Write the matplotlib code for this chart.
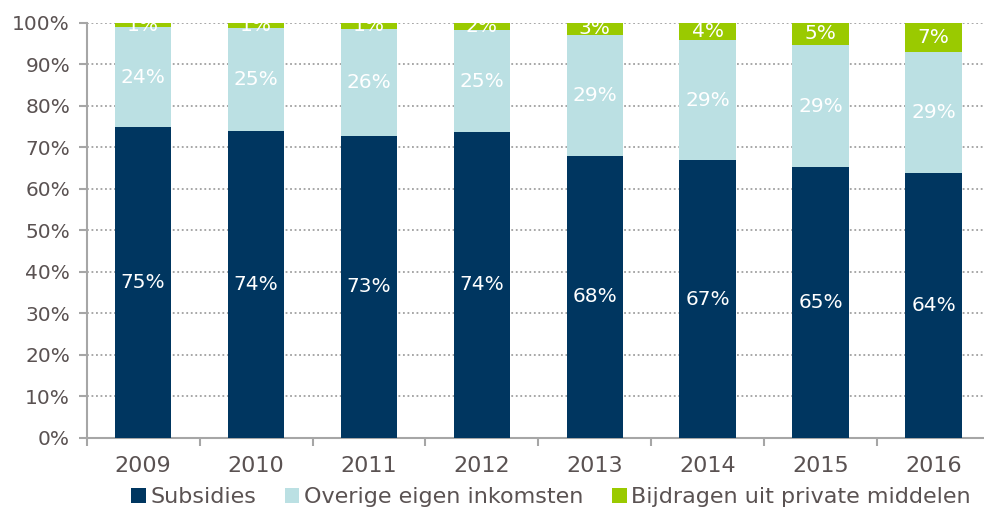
import matplotlib
matplotlib.use("Agg")
import matplotlib.pyplot as plt
from matplotlib.ticker import FixedLocator, PercentFormatter

# values (share of total income, %)
years = ["2009", "2010", "2011", "2012", "2013", "2014", "2015", "2016"]
subsidies = [74.8, 74.0, 72.7, 73.6, 67.9, 66.8, 65.2, 63.7]
overige = [24.1, 24.8, 25.9, 24.6, 29.1, 29.0, 29.4, 29.3]
private = [1.1, 1.2, 1.4, 1.8, 3.0, 4.2, 5.4, 7.0]
series_names = ["Subsidies", "Overige eigen inkomsten", "Bijdragen uit private middelen"]

colors = ["#003660", "#bbe0e3", "#9aca00"]
text_grey = "#5a5252"
axis_grey = "#a6a6a6"

fig = plt.figure(figsize=(9.84, 5.14), dpi=100)
ax = fig.add_axes([0.0881, 0.1485, 0.918, 0.8073])

x = list(range(len(years)))
bottom = [0.0] * len(years)
for vals, name, col in zip([subsidies, overige, private], series_names, colors):
    ax.bar(x, vals, width=0.5, bottom=bottom, color=col, label=name, zorder=3)
    for xi, b, v in zip(x, bottom, vals):
        ax.text(xi, b + v / 2, f"{round(v)}%", ha="center", va="center",
                color="white", fontsize=14.5, zorder=4)
    bottom = [b + v for b, v in zip(bottom, vals)]

ax.set_xlim(-0.5, 7.5)
ax.set_ylim(0, 100)
ax.set_yticks(range(0, 101, 10))
ax.yaxis.set_major_formatter(PercentFormatter(decimals=0))
ax.set_xticks(x)
ax.set_xticklabels(years)
ax.xaxis.set_minor_locator(FixedLocator([i - 0.5 for i in range(len(years) + 1)]))

ax.grid(axis="y", color="#a0a0a0", linestyle=(0, (1, 1.5)), linewidth=1.3, zorder=0)
ax.tick_params(axis="x", which="major", length=0, pad=13, labelsize=16, labelcolor=text_grey)
ax.tick_params(axis="x", which="minor", length=6, width=1.5, color=axis_grey, direction="out")
ax.tick_params(axis="y", length=6, width=1.5, color=axis_grey, pad=6, labelsize=14.5,
               labelcolor=text_grey)

for side in ["top", "right"]:
    ax.spines[side].set_visible(False)
for side in ["left", "bottom"]:
    ax.spines[side].set_color(axis_grey)
    ax.spines[side].set_linewidth(1.5)

leg = fig.legend(loc="center", bbox_to_anchor=(0.56, 0.033), ncol=3, frameon=False,
                 fontsize=16, handlelength=0.65, handleheight=0.65, handletextpad=0.2,
                 columnspacing=1.3)
for t in leg.get_texts():
    t.set_color(text_grey)

fig.savefig("out.png", dpi=100)
